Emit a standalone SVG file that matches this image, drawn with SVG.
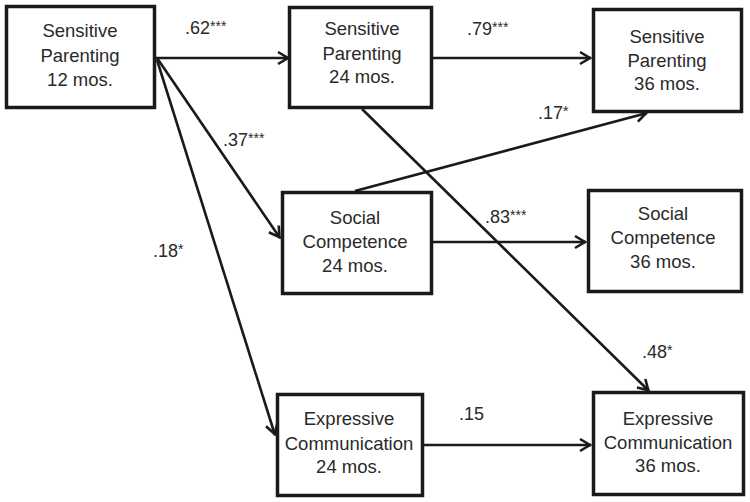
<svg xmlns="http://www.w3.org/2000/svg" width="750" height="502" viewBox="0 0 750 502">
<style>
.box{fill:#fff;stroke:#1a1a1a;stroke-width:3.5}
.t{font-family:"Liberation Sans",Arial,sans-serif;font-size:18.5px;fill:#2a2a2a;text-anchor:middle}
.lbl{font-family:"Liberation Sans",Arial,sans-serif;font-size:18px;fill:#2a2a2a}
.sup{font-size:14px}
.c{stroke:#1a1a1a;stroke-width:2.6;fill:none;marker-end:url(#ah)}
</style>
<defs>
<marker id="ah" markerUnits="userSpaceOnUse" viewBox="-14 -8 16 16" refX="0" refY="0" markerWidth="16" markerHeight="16" orient="auto">
<path d="M-11,-6 L-1,0 L-11,6" fill="none" stroke="#1a1a1a" stroke-width="2.6" stroke-linejoin="miter"/>
</marker>
</defs>
<g id="connectors">
<line class="c" x1="156" y1="58" x2="289" y2="58"/>
<line class="c" x1="433" y1="58" x2="591" y2="58"/>
<line class="c" x1="432" y1="242" x2="586" y2="242"/>
<line class="c" x1="423" y1="445" x2="591" y2="445"/>
<line class="c" x1="157" y1="58" x2="280" y2="238"/>
<line class="c" x1="157" y1="60" x2="275" y2="435"/>
<line class="c" x1="362" y1="109" x2="649" y2="391"/>
<line class="c" x1="355" y1="191" x2="647" y2="113"/>
</g>
<g id="labels">
<text class="lbl" x="185" y="34">.62<tspan class="sup" dy="-3.5">***</tspan></text>
<text class="lbl" x="467" y="35">.79<tspan class="sup" dy="-3.5">***</tspan></text>
<text class="lbl" x="223" y="146">.37<tspan class="sup" dy="-3.5">***</tspan></text>
<text class="lbl" x="153" y="257">.18<tspan class="sup" dy="-3.5">*</tspan></text>
<text class="lbl" x="538" y="119">.17<tspan class="sup" dy="-3.5">*</tspan></text>
<text class="lbl" x="485" y="223">.83<tspan class="sup" dy="-3.5">***</tspan></text>
<text class="lbl" x="642" y="358">.48<tspan class="sup" dy="-3.5">*</tspan></text>
<text class="lbl" x="459" y="420">.15</text>
</g>
<g id="sp12">
<rect class="box" x="6.5" y="6.5" width="148" height="101"/>
<text class="t" x="80" y="37">Sensitive</text>
<text class="t" x="80" y="62">Parenting</text>
<text class="t" x="80" y="86">12 mos.</text>
</g>
<g id="sp24">
<rect class="box" x="289.5" y="7.5" width="142" height="100"/>
<text class="t" x="362" y="35">Sensitive</text>
<text class="t" x="362" y="60">Parenting</text>
<text class="t" x="362" y="83">24 mos.</text>
</g>
<g id="sp36">
<rect class="box" x="593.5" y="9.5" width="148" height="102"/>
<text class="t" x="667" y="43">Sensitive</text>
<text class="t" x="667" y="67">Parenting</text>
<text class="t" x="667" y="90">36 mos.</text>
</g>
<g id="sc24">
<rect class="box" x="282.5" y="192.5" width="149" height="101"/>
<text class="t" x="355" y="224">Social</text>
<text class="t" x="355" y="248">Competence</text>
<text class="t" x="355" y="272">24 mos.</text>
</g>
<g id="sc36">
<rect class="box" x="588.5" y="190.5" width="153" height="101"/>
<text class="t" x="663" y="220">Social</text>
<text class="t" x="663" y="244">Competence</text>
<text class="t" x="663" y="268">36 mos.</text>
</g>
<g id="ec24">
<rect class="box" x="277.5" y="394.5" width="145" height="101"/>
<text class="t" x="349" y="425">Expressive</text>
<text class="t" x="349" y="450">Communication</text>
<text class="t" x="349" y="473">24 mos.</text>
</g>
<g id="ec36">
<rect class="box" x="593.5" y="392.5" width="150" height="102"/>
<text class="t" x="668" y="425">Expressive</text>
<text class="t" x="668" y="449">Communication</text>
<text class="t" x="668" y="472">36 mos.</text>
</g>
</svg>
